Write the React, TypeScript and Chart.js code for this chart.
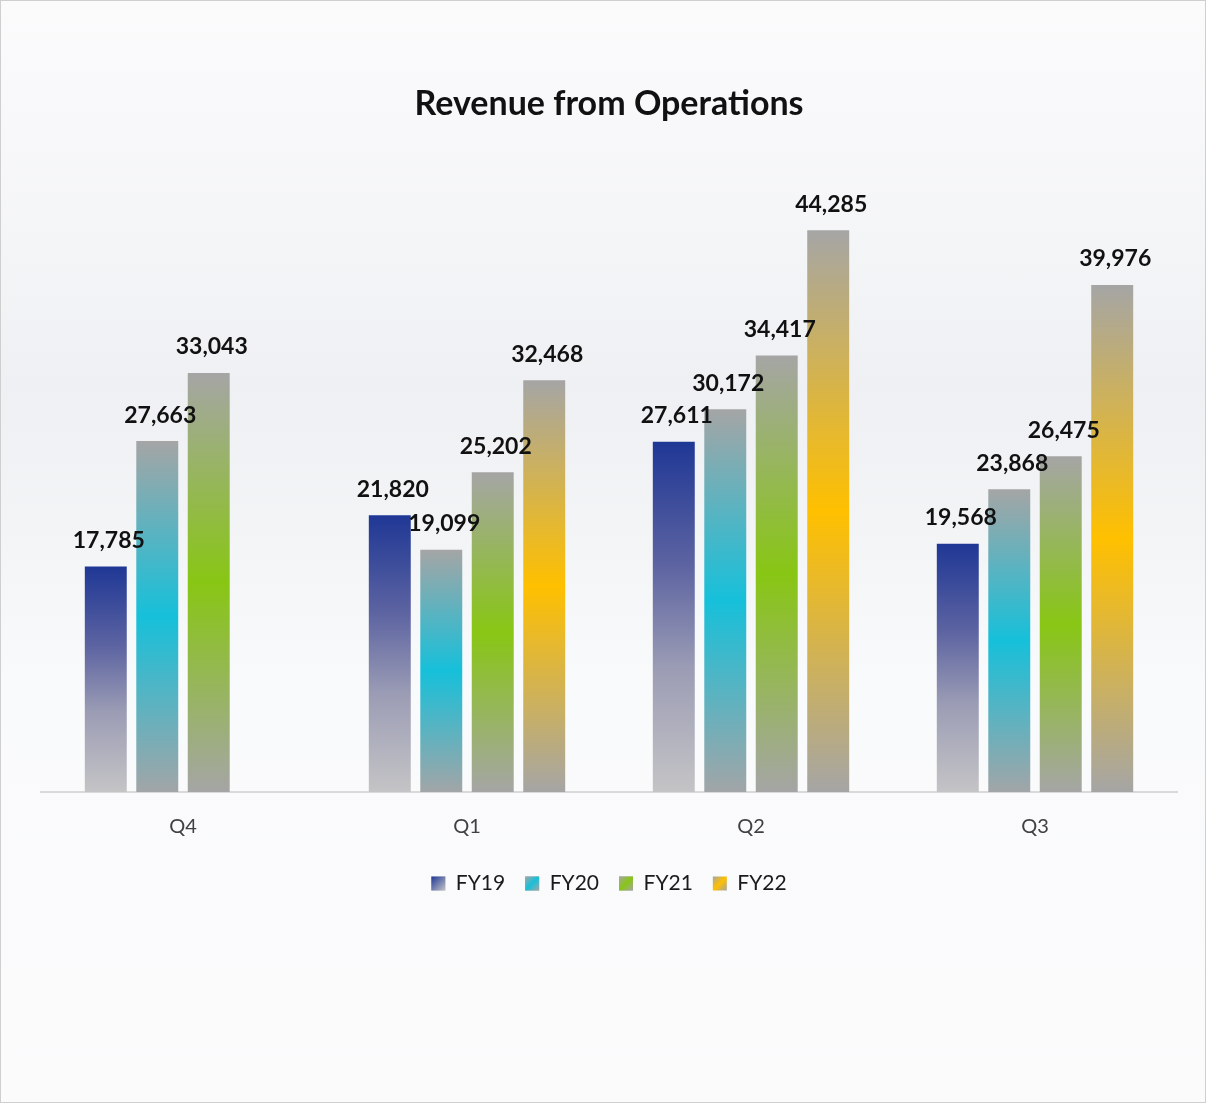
import React, { useEffect, useRef } from "react";
import { Chart, registerables } from "chart.js";

Chart.register(...registerables);

const categories = ["Q4", "Q1", "Q2", "Q3"];
const seriesNames = ["FY19", "FY20", "FY21", "FY22"];
const fy19 = [17785, 21820, 27611, 19568];
const fy20 = [27663, 19099, 30172, 23868];
const fy21 = [33043, 25202, 34417, 26475];
const fy22 = [null, 32468, 44285, 39976];
const seriesValues = [fy19, fy20, fy21, fy22];

const FONT = "Lato, 'Open Sans', sans-serif";

// gradient stops per series: [offset, color]
const gradientStops: [number, string][][] = [
  [
    [0, "#1f3795"],
    [0.35, "#5c63a1"],
    [0.65, "#9c9db5"],
    [1, "#c4c4c6"],
  ],
  [
    [0, "#a5a5a5"],
    [0.5, "#16c0da"],
    [1, "#a2a5a7"],
  ],
  [
    [0, "#a5a5a5"],
    [0.5, "#88c614"],
    [1, "#a5a5a5"],
  ],
  [
    [0, "#a5a5a5"],
    [0.5, "#ffc000"],
    [1, "#a5a5a5"],
  ],
];
const legendColors = ["#5a62a0", "#3fc0d5", "#8dc43c", "#f2bd3c"];

function fmt(v: number) {
  return v.toLocaleString("en-US");
}

function makeGradient(ctx: any, s: number) {
  const chart = ctx.chart;
  const y = chart.scales && chart.scales.y;
  if (ctx.type !== "data" || !y) return legendColors[s];
  const v = ctx.raw;
  if (v == null) return "rgba(0,0,0,0)";
  const top = y.getPixelForValue(v);
  const bottom = y.getPixelForValue(0);
  if (!isFinite(top) || !isFinite(bottom) || top === bottom) return legendColors[s];
  const g = chart.ctx.createLinearGradient(0, top, 0, bottom);
  gradientStops[s].forEach(([o, c]) => g.addColorStop(o, c));
  return g;
}

const valueLabels = {
  id: "valueLabels",
  afterDatasetsDraw(chart: any) {
    const ctx = chart.ctx;
    ctx.save();
    ctx.font = `bold 23px ${FONT}`;
    ctx.fillStyle = "#111111";
    ctx.textAlign = "center";
    ctx.textBaseline = "middle";
    chart.data.datasets.forEach((ds: any, i: number) => {
      const meta = chart.getDatasetMeta(i);
      meta.data.forEach((el: any, j: number) => {
        const v = ds.data[j];
        if (v == null) return;
        ctx.fillText(fmt(v), el.x + 3, el.y - 26);
      });
    });
    ctx.restore();
  },
};

const legendGradients = {
  id: "legendGradients",
  afterDraw(chart: any) {
    const legend = chart.legend;
    if (!legend || !legend.legendHitBoxes) return;
    const ctx = chart.ctx;
    legend.legendHitBoxes.forEach((hb: any, i: number) => {
      const size = 14;
      const x = hb.left;
      const y = hb.top + (hb.height - size) / 2;
      const g = ctx.createLinearGradient(x, y, x + size, y + size);
      if (i === 0) {
        g.addColorStop(0, "#1f3795");
        g.addColorStop(1, "#c4c4c6");
      } else {
        const c = gradientStops[i][1][1];
        g.addColorStop(0, "#a5a5a5");
        g.addColorStop(0.5, c);
        g.addColorStop(1, "#a5a5a5");
      }
      ctx.save();
      ctx.fillStyle = g;
      ctx.fillRect(x, y, size, size);
      ctx.restore();
    });
  },
};

export default function App() {
  const ref = useRef<HTMLCanvasElement | null>(null);
  useEffect(() => {
    if (!ref.current) return;
    const chart = new Chart(ref.current, {
      type: "bar",
      data: {
        labels: categories,
        datasets: seriesNames.map((name, s) => ({
          label: name,
          data: seriesValues[s] as any,
          backgroundColor: (ctx: any) => makeGradient(ctx, s),
          borderWidth: 0,
          categoryPercentage: 0.725,
          barPercentage: 0.815,
        })),
      },
      options: {
        animation: false,
        responsive: false,
        layout: { padding: { left: 41, right: 29, top: 0, bottom: 199 } },
        scales: {
          x: {
            grid: { display: false, drawTicks: false },
            border: { display: true, color: "#d9d9d9", width: 2 },
            ticks: { color: "#404040", font: { family: FONT, size: 20 }, padding: 23 },
            afterFit(scale: any) {
              scale.height -= 9;
            },
          },
          y: {
            display: false,
            min: 0,
            max: 50000,
          },
        },
        plugins: {
          title: {
            display: true,
            text: "Revenue from Operations",
            color: "#111111",
            font: { family: FONT, size: 34, weight: "bold" },
            padding: { top: 84, bottom: 33 },
          },
          legend: {
            display: true,
            position: "bottom",
            labels: {
              color: "#1a1a1a",
              font: { family: FONT, size: 21 },
              boxWidth: 14,
              boxHeight: 14,
              padding: 20,
            },
          },
          tooltip: { enabled: false },
        },
      },
      plugins: [valueLabels, legendGradients],
    });
    return () => chart.destroy();
  }, []);

  return (
    <div
      style={{
        position: "absolute",
        left: 0,
        top: 0,
        width: 1206,
        height: 1103,
        boxSizing: "border-box",
        border: "1px solid #cfcfcf",
        background:
          "linear-gradient(180deg, #fbfbfc 0%, #f4f5f7 22%, #eff0f3 35%, #f3f4f6 48%, #f9fafb 62%, #fbfbfc 100%)",
        overflow: "hidden",
      }}
    >
      <canvas ref={ref} width={1206} height={1103} style={{ position: "absolute", left: -1, top: -1 }} />
    </div>
  );
}
